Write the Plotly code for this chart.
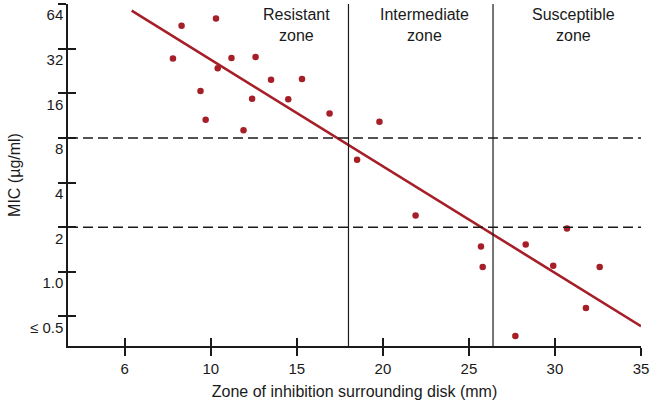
import plotly.graph_objects as go

# Messpunkte: Hemmhofdurchmesser (mm) vs. MIC (µg/ml)
zone_mm = [7.8, 8.3, 10.3, 9.4, 9.7, 10.4, 11.2, 11.9, 12.6, 12.4, 13.5, 14.5, 15.3, 16.9,
           19.8, 18.5, 21.9, 25.7, 25.8, 28.3, 27.7, 30.7, 29.9, 32.6, 31.8]
mic = [27.4, 45.7, 51.1, 16.6, 10.6, 23.6, 27.7, 9.0, 28.1, 14.7, 19.7, 14.6, 20.0, 11.7,
       10.3, 5.7, 2.4, 1.48, 1.08, 1.53, 0.37, 1.96, 1.10, 1.08, 0.57]

fit_x = [5.4, 35.0]
fit_y = [57.7, 0.43]

# Grenzwerte
mic_breaks = [8, 2]
zone_breaks = [18.0, 26.4]

zone_labels = ["Resistant<br>zone", "Intermediate<br>zone", "Susceptible<br>zone"]
zone_label_x = [15.0, 22.4, 31.05]

x_tickvals = [5, 10, 15, 20, 25, 30, 35]
x_ticktext = ["6", "10", "15", "20", "25", "30", "35"]
y_tickvals = [64, 32, 16, 8, 4, 2, 1, 0.5]
y_ticktext = ["64", "32", "16", "8", "4", "2", "1.0", "≤ 0.5"]

RED = "#a61e28"
INK = "#1a1a1a"
FONT = "Liberation Sans, Arial, sans-serif"

x_range = [1.7, 35]
y_range = [-0.5, 1.806]

fig = go.Figure()

fig.add_trace(go.Scatter(
    x=fit_x, y=fit_y, mode="lines",
    line=dict(color=RED, width=2.6), hoverinfo="skip", showlegend=False,
))
fig.add_trace(go.Scatter(
    x=zone_mm, y=mic, mode="markers",
    marker=dict(color=RED, size=6.5), showlegend=False,
))
# unsichtbare Spur, damit die zweiten Achsen (innere Ticks) gezeichnet werden
fig.add_trace(go.Scatter(
    x=[zone_mm[0]], y=[mic[0]], xaxis="x2", yaxis="y2", mode="markers",
    marker=dict(opacity=0), hoverinfo="skip", showlegend=False,
))

for yb in mic_breaks:
    fig.add_hline(y=yb, line=dict(color=INK, width=1.5, dash="10px,5px"))
for xb in zone_breaks:
    fig.add_vline(x=xb, line=dict(color=INK, width=1.2))

for txt, xl in zip(zone_labels, zone_label_x):
    fig.add_annotation(
        x=xl, y=1, xref="x", yref="paper", yanchor="top", yshift=0,
        text=txt, showarrow=False, font=dict(family=FONT, size=16, color=INK),
    )

axis_common = dict(showgrid=False, zeroline=False, tickcolor=INK, tickwidth=1.5,
                   ticklen=8, automargin=False)

fig.update_layout(
    width=650, height=407,
    margin=dict(l=68, r=9, t=4, b=61),
    paper_bgcolor="white", plot_bgcolor="white",
    font=dict(family=FONT, size=15, color=INK),
    xaxis=dict(
        range=x_range, tickvals=x_tickvals, ticktext=x_ticktext, ticks="outside",
        showline=True, linecolor=INK, linewidth=1.5,
        title=dict(text="Zone of inhibition surrounding disk (mm)", standoff=10,
                   font=dict(size=16)),
        tickfont=dict(size=15),
        **axis_common,
    ),
    yaxis=dict(
        type="log", range=y_range, tickvals=y_tickvals, ticktext=y_ticktext,
        ticks="outside", ticklabelposition="outside bottom",
        showline=True, linecolor=INK, linewidth=1.5,
        title=dict(text="MIC (µg/ml)", standoff=5, font=dict(size=16)),
        tickfont=dict(size=15),
        **axis_common,
    ),
    xaxis2=dict(
        overlaying="x", anchor="y2", side="bottom", range=x_range,
        tickvals=x_tickvals, ticks="inside", showticklabels=False, showline=False,
        **axis_common,
    ),
    yaxis2=dict(
        overlaying="y", anchor="x2", side="left", type="log", range=y_range,
        tickvals=y_tickvals, ticks="inside", showticklabels=False, showline=False,
        **axis_common,
    ),
)

# Standard-Seitenrand des Browsers entfernen, keine Werkzeugleiste
fig.write_html("out.html", config={"displayModeBar": False},
               post_script="document.body.style.margin='0';")
